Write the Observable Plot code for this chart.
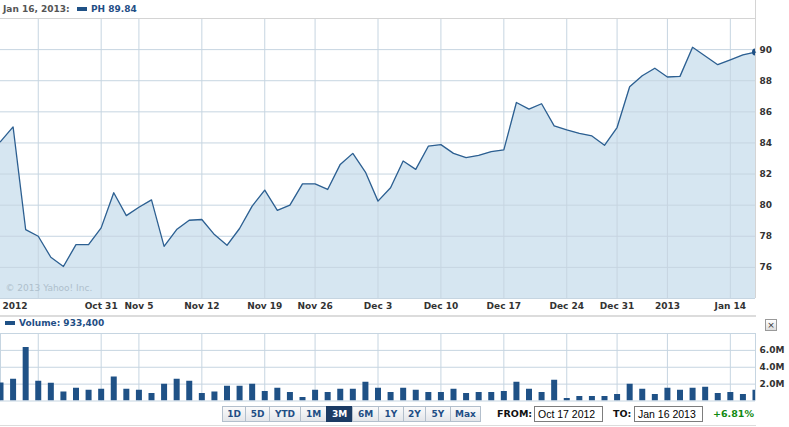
<!DOCTYPE html>
<html><head><meta charset="utf-8">
<script src="https://cdn.jsdelivr.net/npm/d3@7"></script>
<script src="https://cdn.jsdelivr.net/npm/@observablehq/plot@0.6"></script>
<style>
body{margin:0;background:#fff;font-family:"DejaVu Sans",Verdana,sans-serif;}
#wrap{position:relative;width:789px;height:427px;overflow:hidden;background:#fff;}
.a{position:absolute;white-space:nowrap;}
.b{font-weight:bold;font-size:9px;}
.btn{position:absolute;top:406px;height:14px;line-height:14px;text-align:center;border:1px solid #b3bfcc;
 background:linear-gradient(#fbfbfb,#e3e6ea);color:#1f4e85;font-weight:bold;font-size:9px;box-sizing:content-box;}
.btn.sel{background:#1b3b64;color:#fff;border-color:#1b3b64;}
.inp{position:absolute;top:406px;height:14px;border:1px solid #7d7d7d;background:#fff;font-family:"Liberation Sans",Arial,sans-serif;font-size:10.5px;line-height:14px;padding-left:3px;color:#000;}
</style></head><body><div id="wrap">
<div class="a b" style="left:3px;top:4px;color:#555;">Jan 16, 2013:</div>
<div class="a" style="left:77px;top:7px;width:10px;height:4px;background:#1f5186;"></div>
<div class="a b" style="left:91px;top:4px;color:#1f4e85;">PH 89.84</div>
<div class="a" style="left:755px;top:0;width:1px;height:18px;background:#d4d4d4;"></div>
<div id="price" class="a" style="left:0;top:0;"></div>
<div class="a" style="left:0;top:315px;width:756px;height:2px;background:#dcdcdc;"></div>
<div class="a" style="left:5px;top:321px;width:10px;height:4px;background:#1f5186;"></div>
<div class="a b" style="left:19px;top:318px;color:#1f4e85;">Volume: 933,400</div>
<div class="a" style="left:765px;top:319px;width:10px;height:10px;border:1px solid #999;background:linear-gradient(#fff,#ddd);font-size:9px;line-height:10px;text-align:center;color:#333;">×</div>
<div id="vol" class="a" style="left:0;top:316px;"></div>
<div id="btns"></div>
<div class="a b" style="left:497px;top:408px;color:#111;font-size:9.5px;">FROM:</div>
<div class="inp" style="left:534px;width:64px;">Oct 17 2012</div>
<div class="a b" style="left:613px;top:408px;color:#111;font-size:9.5px;">TO:</div>
<div class="inp" style="left:634px;width:64px;">Jan 16 2013</div>
<div class="a b" style="left:713px;top:408px;color:#118a11;font-size:9.5px;">+6.81%</div>
<div class="a" style="left:0;top:425px;width:756px;height:1px;background:#dcdcdc;"></div>
</div>
<script>
const dates = ["Oct 17","Oct 18","Oct 19","Oct 22","Oct 23","Oct 24","Oct 25","Oct 26","Oct 31","Nov 1","Nov 2",
 "Nov 5","Nov 6","Nov 7","Nov 8","Nov 9","Nov 12","Nov 13","Nov 14","Nov 15","Nov 16","Nov 19","Nov 20","Nov 21","Nov 23",
 "Nov 26","Nov 27","Nov 28","Nov 29","Nov 30","Dec 3","Dec 4","Dec 5","Dec 6","Dec 7","Dec 10","Dec 11","Dec 12","Dec 13","Dec 14",
 "Dec 17","Dec 18","Dec 19","Dec 20","Dec 21","Dec 24","Dec 26","Dec 27","Dec 28","Dec 31","Jan 2","Jan 3","Jan 4",
 "Jan 7","Jan 8","Jan 9","Jan 10","Jan 11","Jan 14","Jan 15","Jan 16"];
const closePrice = [84.08,85.03,78.43,78.0,76.65,76.06,77.46,77.46,78.54,80.8,
 79.33,79.87,80.34,77.35,78.43,79.03,79.08,78.11,77.42,78.5,
 79.94,80.97,79.66,80.0,81.37,81.37,81.01,82.62,83.33,82.13,
 80.26,81.12,82.84,82.3,83.79,83.89,83.33,83.05,83.2,83.44,
 83.55,86.6,86.17,86.52,85.1,84.84,84.62,84.45,83.85,84.99,
 87.61,88.32,88.8,88.24,88.28,90.15,89.59,89.03,89.34,89.66,89.84];
const volumeM = [2.14,2.59,6.33,2.35,2.11,1.06,1.5,1.27,1.39,2.83,
 1.39,1.27,0.9,1.99,2.59,2.35,0.9,1.06,1.75,1.75,
 1.99,1.14,1.5,1.02,0.42,1.27,1.02,1.39,1.39,2.23,
 1.5,1.02,1.5,1.27,1.02,1.02,1.39,0.9,1.02,1.02,
 1.14,2.23,1.39,1.02,2.47,0.3,0.54,0.54,0.54,0.78,
 1.99,1.39,0.78,1.5,1.27,1.5,1.63,0.9,1.02,0.78,1.27];
const gridDates = ["Oct 22","Oct 31","Nov 5","Nov 12","Nov 19","Nov 26","Dec 3","Dec 10","Dec 17","Dec 24","Dec 31","Jan 7","Jan 14"];
const tickDates = ["Oct 31","Nov 5","Nov 12","Nov 19","Nov 26","Dec 3","Dec 10","Dec 17","Dec 24","Dec 31","Jan 7","Jan 14"];
const tickLabels = ["Oct 31","Nov 5","Nov 12","Nov 19","Nov 26","Dec 3","Dec 10","Dec 17","Dec 24","Dec 31","2013","Jan 14"];
const yearLabel = "2012";
const priceTicks = [76,78,80,82,84,86,88,90];
const priceGrid = [74,76,78,80,82,84,86,88,90];
const volTicks = [2,4,6];
const volGrid = [0,2,4,6,8];
const buttons = ["1D","5D","YTD","1M","3M","6M","1Y","2Y","5Y","Max"];
const selectedButton = "3M";

const rows = dates.map((d,i)=>({i, date:d, close:closePrice[i], volume:volumeM[i]*1e6}));
const idx = d => dates.indexOf(d);
const gridIdx = gridDates.map(idx);
const tickIdx = tickDates.map(idx);
const gridColor = "#c6d5e1";
const font = {fontFamily:"'DejaVu Sans', Verdana, sans-serif", fontSize:"9px", fontWeight:"bold", color:"#333", background:"transparent"};

const price = Plot.plot({
  width:789, height:316, marginLeft:0, marginRight:34, marginTop:18, marginBottom:18,
  x:{domain:[0, dates.length-1], axis:null},
  y:{domain:[74,92], axis:null},
  style:font,
  marks:[
    Plot.areaY(rows,{x:"i", y1:74, y2:"close", fill:"#d6e6f1"}),
    Plot.ruleY(priceGrid,{stroke:gridColor}),
    Plot.ruleX(gridIdx,{stroke:gridColor}),
    Plot.ruleY([92],{stroke:"#d4d4d4"}),
    Plot.ruleX([dates.length-1],{stroke:"#d4d4d4"}),
    Plot.text(["© 2013 Yahoo! Inc."],{frameAnchor:"bottom-left", dx:5, dy:-8, fill:"#aebfcc", fontWeight:"normal", fontSize:9, textAnchor:"start"}),
    Plot.lineY(rows,{x:"i", y:"close", stroke:"#2c5f91", strokeWidth:1.3}),
    Plot.dot(rows.slice(-1),{x:"i", y:"close", r:3.5, fill:"#1f5186", clip:true}),
    Plot.axisY(priceTicks,{anchor:"right", tickSize:0, tickPadding:4, label:null}),
    Plot.axisX(tickIdx,{anchor:"bottom", tickSize:0, tickPadding:4, label:null, tickFormat:d=>tickLabels[tickIdx.indexOf(d)]}),
    Plot.axisX([0],{anchor:"bottom", tickSize:0, tickPadding:4, label:null, textAnchor:"start", dx:2, tickFormat:()=>yearLabel})
  ]
});
document.getElementById("price").appendChild(price);

const vol = Plot.plot({
  width:789, height:88, marginLeft:0, marginRight:34, marginTop:17, marginBottom:3.5,
  x:{domain:[0, dates.length-1], axis:null},
  y:{domain:[0,8e6], axis:null},
  style:font,
  marks:[
    Plot.ruleY(volGrid.map(v=>v*1e6),{stroke:gridColor}),
    Plot.ruleX(gridIdx,{stroke:gridColor}),
    Plot.ruleX([0, dates.length-1],{stroke:gridColor}),
    Plot.ruleX(rows,{x:"i", y1:0, y2:"volume", stroke:"#1f5186", strokeWidth:6, clip:true}),
    Plot.axisY(volTicks.map(v=>v*1e6),{anchor:"right", tickSize:0, tickPadding:4, label:null, tickFormat:d=>(d/1e6).toFixed(1)+"M"})
  ]
});
document.getElementById("vol").appendChild(vol);

// range buttons
const btnWidths = {"1D":22,"5D":23,"YTD":30,"1M":25,"3M":25,"6M":25,"1Y":24,"2Y":21,"5Y":24,"Max":29};
let left = 222;
const wrap = document.getElementById("wrap");
buttons.forEach(b=>{
  const el = document.createElement("div");
  el.className = "btn" + (b===selectedButton ? " sel" : "");
  el.textContent = b;
  el.style.left = left + "px";
  el.style.width = btnWidths[b] + "px";
  wrap.appendChild(el);
  left += btnWidths[b] + 1;
});
</script>
</body></html>
